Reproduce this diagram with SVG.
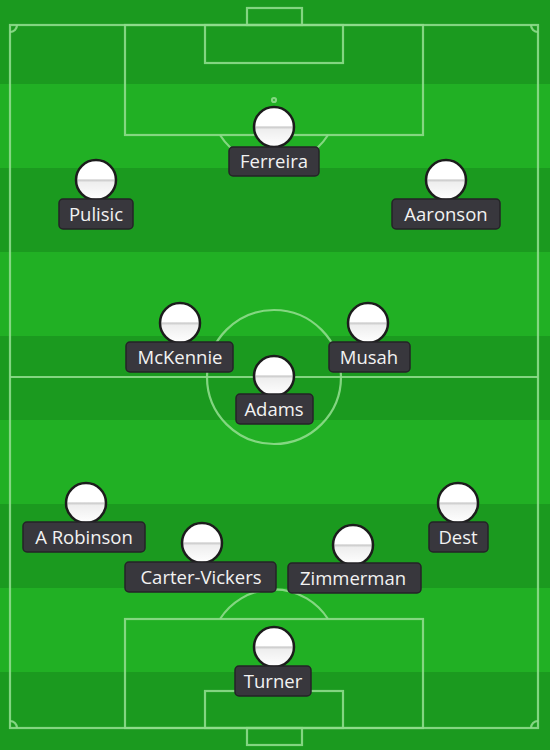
<svg xmlns="http://www.w3.org/2000/svg" width="550" height="750" viewBox="0 0 550 750">
<style>
.ln{fill:none;stroke:#8fdc8c;stroke-width:2.2;stroke-opacity:0.9}
.dk{fill:#1b9a1f}
.lt{fill:#21b024}
.ball{fill:url(#shirt);stroke:#1c1c1c;stroke-width:2.5}
.tag{fill:#38373d;stroke:#242327;stroke-width:1.5}
.nm{font-family:"Open Sans","Liberation Sans",sans-serif;font-size:18.5px;fill:#f2f2f2;text-anchor:middle}
</style>
<defs>
<linearGradient id="shirt" x1="0" y1="0" x2="0" y2="1">
<stop offset="0" stop-color="#ffffff"/>
<stop offset="0.47" stop-color="#ffffff"/>
<stop offset="0.5" stop-color="#c8c8c8"/>
<stop offset="0.56" stop-color="#eeeeee"/>
<stop offset="1" stop-color="#ffffff"/>
</linearGradient>
</defs>
<g id="pitch">
<rect class="dk" x="0" y="0" width="550" height="84"/>
<rect class="lt" x="0" y="84" width="550" height="84"/>
<rect class="dk" x="0" y="168" width="550" height="84"/>
<rect class="lt" x="0" y="252" width="550" height="84"/>
<rect class="dk" x="0" y="336" width="550" height="84"/>
<rect class="lt" x="0" y="420" width="550" height="84"/>
<rect class="dk" x="0" y="504" width="550" height="84"/>
<rect class="lt" x="0" y="588" width="550" height="84"/>
<rect class="dk" x="0" y="672" width="550" height="78"/>
<rect class="ln" x="10" y="25" width="528" height="703"/>
<rect class="ln" x="247" y="8" width="55" height="17"/>
<rect class="ln" x="125" y="25" width="298" height="110"/>
<rect class="ln" x="205" y="25" width="138" height="38"/>
<circle cx="274" cy="100" r="2" class="ln"/>
<path class="ln" d="M220,135 A64,64 0 0 0 328,135"/>
<line class="ln" x1="10" y1="377" x2="538" y2="377"/>
<circle class="ln" cx="274" cy="377" r="67"/>
<rect class="ln" x="247" y="728" width="55" height="17"/>
<rect class="ln" x="125" y="619" width="298" height="109"/>
<rect class="ln" x="205" y="691" width="138" height="37"/>
<path class="ln" d="M220,619 A64,64 0 0 1 328,619"/>
<path class="ln" d="M10,32 A7,7 0 0 0 17,25"/>
<path class="ln" d="M531,25 A7,7 0 0 0 538,32"/>
<path class="ln" d="M10,721 A7,7 0 0 1 17,728"/>
<path class="ln" d="M531,728 A7,7 0 0 1 538,721"/>
</g>
<g id="connectors"/>
<g id="ferreira"><circle class="ball" cx="274" cy="127" r="20"/><rect class="tag" x="229" y="147" width="90" height="29" rx="4"/><text class="nm" x="274" y="168">Ferreira</text></g>
<g id="pulisic"><circle class="ball" cx="96" cy="180" r="20"/><rect class="tag" x="59" y="199" width="74" height="30" rx="4"/><text class="nm" x="96" y="221">Pulisic</text></g>
<g id="aaronson"><circle class="ball" cx="446" cy="180" r="20"/><rect class="tag" x="392" y="199" width="108" height="30" rx="4"/><text class="nm" x="446" y="221">Aaronson</text></g>
<g id="mckennie"><circle class="ball" cx="180" cy="323" r="20"/><rect class="tag" x="126" y="342" width="107" height="30" rx="4"/><text class="nm" x="180" y="364">McKennie</text></g>
<g id="musah"><circle class="ball" cx="368" cy="323" r="20"/><rect class="tag" x="329" y="342" width="81" height="30" rx="4"/><text class="nm" x="369" y="364">Musah</text></g>
<g id="adams"><circle class="ball" cx="274" cy="376" r="20"/><rect class="tag" x="236" y="394" width="77" height="30" rx="4"/><text class="nm" x="274" y="416">Adams</text></g>
<g id="robinson"><circle class="ball" cx="86" cy="503" r="20"/><rect class="tag" x="23" y="522" width="122" height="30" rx="4"/><text class="nm" x="84" y="544">A Robinson</text></g>
<g id="dest"><circle class="ball" cx="458" cy="503" r="20"/><rect class="tag" x="429" y="522" width="59" height="30" rx="4"/><text class="nm" x="458" y="544">Dest</text></g>
<g id="cartervickers"><circle class="ball" cx="202" cy="543" r="20"/><rect class="tag" x="125" y="562" width="151" height="30" rx="4"/><text class="nm" x="201" y="584">Carter-Vickers</text></g>
<g id="zimmerman"><circle class="ball" cx="353" cy="545" r="20"/><rect class="tag" x="288" y="563" width="133" height="30" rx="4"/><text class="nm" x="353" y="585">Zimmerman</text></g>
<g id="turner"><circle class="ball" cx="274" cy="647" r="20"/><rect class="tag" x="235" y="666" width="76" height="30" rx="4"/><text class="nm" x="273" y="688">Turner</text></g>
</svg>
